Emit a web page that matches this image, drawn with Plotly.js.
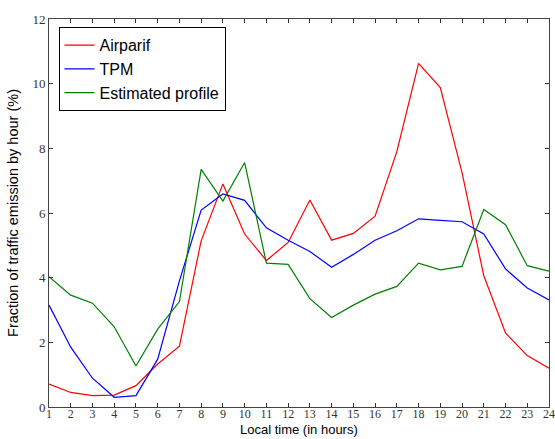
<!DOCTYPE html>
<html><head><meta charset="utf-8">
<script src="https://cdn.plot.ly/plotly-3.0.1.min.js"></script>
<style>body{margin:0;background:#fff}#c{width:555px;height:439px}</style>
</head><body><div id="c"></div>
<script>
const hours = [1,2,3,4,5,6,7,8,9,10,11,12,13,14,15,16,17,18,19,20,21,22,23,24];
const airparif = [0.71,0.45,0.35,0.37,0.66,1.33,1.88,5.14,6.9,5.35,4.53,5.09,6.4,5.16,5.37,5.9,7.9,10.63,9.88,7.25,4.06,2.29,1.59,1.2];
const tpm = [3.15,1.85,0.89,0.3,0.35,1.48,3.9,6.09,6.59,6.39,5.54,5.16,4.81,4.32,4.72,5.16,5.45,5.82,5.77,5.73,5.35,4.27,3.68,3.31];
const estimated = [4.03,3.46,3.21,2.48,1.27,2.41,3.26,7.35,6.37,7.56,4.45,4.41,3.35,2.77,3.15,3.49,3.73,4.45,4.24,4.35,6.11,5.64,4.37,4.2];
const yTicks = [0,2,4,6,8,10,12];

const mk = (y, name, color) => ({x: hours, y: y, name: name, type: 'scatter', mode: 'lines', line: {color: color, width: 1.2}});
const data = [mk(airparif,'Airparif','#ff0000'), mk(tpm,'TPM','#0000ff'), mk(estimated,'Estimated profile','#008000')];

const tickFont = {family: 'Liberation Serif, DejaVu Serif, serif', size: 13, color: '#333'};
const layout = {
  width: 555, height: 439,
  margin: {l: 49, r: 6, t: 19, b: 32},
  paper_bgcolor: '#fff', plot_bgcolor: '#fff',
  showlegend: true,
  legend: {x: 0.019, y: 0.979, xanchor: 'left', yanchor: 'top', bordercolor: '#000', borderwidth: 1,
           bgcolor: '#fff', font: {family: 'Liberation Sans, Arial, sans-serif', size: 16, color: '#000'},
           tracegroupgap: 0, itemwidth: 30},
  xaxis: {range: [1,24], tickvals: hours, ticks: 'inside', ticklen: 4, tickcolor: '#333', mirror: 'ticks',
          showline: true, linecolor: '#444', linewidth: 1, showgrid: false, zeroline: false,
          tickfont: {family: 'Liberation Serif, DejaVu Serif, serif', size: 12, color: '#333'},
          ticklabeloverflow: 'allow', ticklabelstandoff: -4},
  yaxis: {range: [0,12], tickvals: yTicks, ticks: 'inside', ticklen: 4, tickcolor: '#333', mirror: 'ticks',
          showline: true, linecolor: '#444', linewidth: 1, showgrid: false, zeroline: false,
          tickfont: tickFont,
          title: {text: 'Fraction of traffic emission by hour (%)', standoff: 10, font: {family: 'Liberation Sans, Arial, sans-serif', size: 14.5, color: '#000'}}},
  annotations: [{text: 'Local time (in hours)', xref: 'paper', yref: 'paper', x: 0.5, y: -0.080,
                 xanchor: 'center', yanchor: 'bottom', showarrow: false, borderpad: 0,
                 font: {family: 'Liberation Sans, Arial, sans-serif', size: 13, color: '#000'}}]
};
Plotly.newPlot('c', data, layout, {displayModeBar: false, staticPlot: true});
</script></body></html>
